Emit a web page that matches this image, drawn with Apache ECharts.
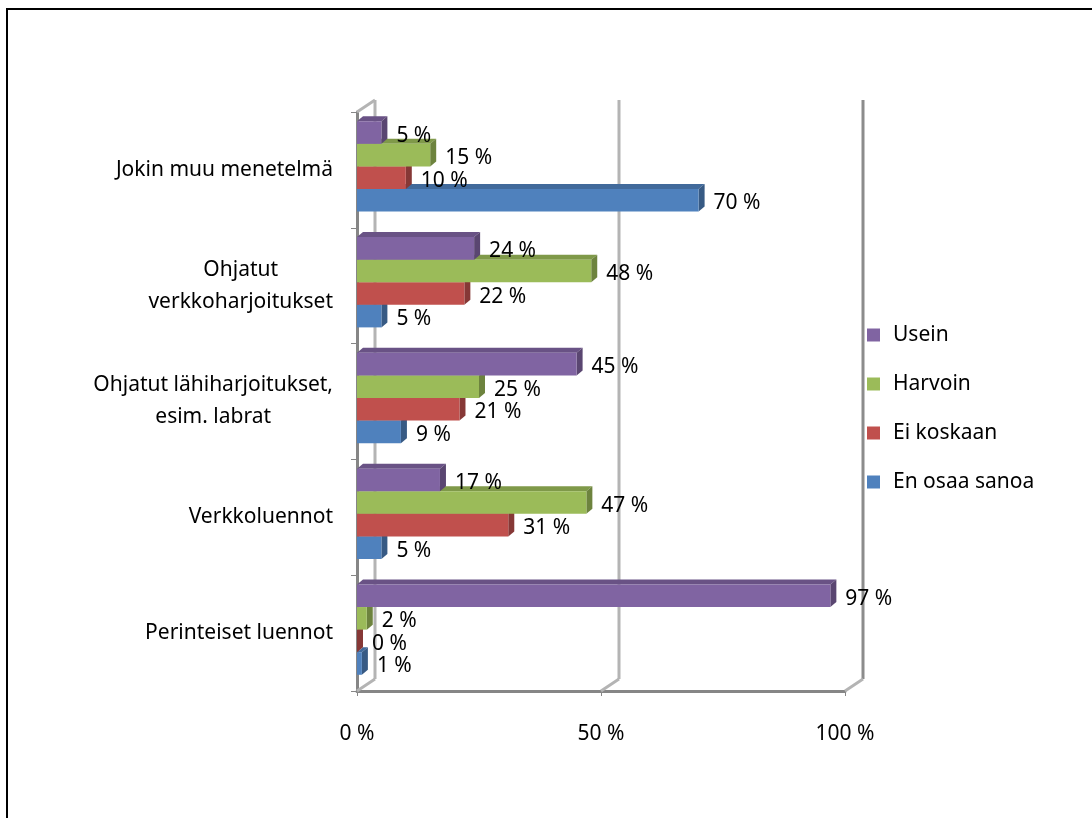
<!DOCTYPE html>
<html>
<head>
    <meta charset="utf-8">
    <title>ECharts</title>
    <script src="https://cdn.jsdelivr.net/npm/echarts@6/dist/echarts.min.js"></script>
    <style>
        body { margin: 0; background: #fff; }
        #main { width: 1092px; height: 818px; }
    </style>
</head>
<body>
    <div id="main"></div>
    <script type="text/javascript">
        // categories, bottom to top as drawn on the axis
        var categories = ['Perinteiset luennot', 'Verkkoluennot', 'Ohjatut lähiharjoitukset,\nesim. labrat', 'Ohjatut\nverkkoharjoitukset', 'Jokin muu menetelmä'];
        var usein = [97, 17, 45, 24, 5];
        var harvoin = [2, 47, 25, 48, 15];
        var eiKoskaan = [0, 31, 21, 22, 10];
        var enOsaaSanoa = [1, 5, 9, 5, 70];
        var xTicks = [0, 50, 100];

        var FONT = '"Noto Sans", sans-serif';
        var DX = 18, DY = -12;     // depth of back wall
        var BDX = 6, BDY = -5;     // depth of each bar

        // slot 0 = top bar of each group
        var seriesDefs = [
            { name: 'En osaa sanoa', data: enOsaaSanoa, color: '#4F81BD', slot: 3 },
            { name: 'Ei koskaan', data: eiKoskaan, color: '#C0504D', slot: 2 },
            { name: 'Harvoin', data: harvoin, color: '#9BBB59', slot: 1 },
            { name: 'Usein', data: usein, color: '#8064A2', slot: 0 }
        ];

        function darken(hex, f) {
            var n = parseInt(hex.slice(1), 16);
            var r = Math.round(((n >> 16) & 255) * f);
            var g = Math.round(((n >> 8) & 255) * f);
            var b = Math.round((n & 255) * f);
            return 'rgb(' + r + ',' + g + ',' + b + ')';
        }

        function barRenderer(def) {
            return function (params, api) {
                var v = api.value(0), c = api.value(1);
                var base = api.coord([0, c]);
                var end = api.coord([v, c]);
                var band = api.size([0, 1])[1];
                var h = band * 0.195;
                var top = base[1] - band * 0.42 + def.slot * h;
                var x0 = base[0], x1 = end[0];
                var side = darken(def.color, 0.7);
                var lid = darken(def.color, 0.82);
                return {
                    type: 'group',
                    children: [
                        { type: 'polygon', shape: { points: [[x0, top], [x0 + BDX, top + BDY], [x1 + BDX, top + BDY], [x1, top]] }, style: { fill: lid } },
                        { type: 'polygon', shape: { points: [[x1, top], [x1 + BDX, top + BDY], [x1 + BDX, top + h + BDY], [x1, top + h]] }, style: { fill: side } },
                        { type: 'rect', shape: { x: x0, y: top, width: x1 - x0, height: h }, style: { fill: def.color } },
                        { type: 'text', x: x1 + BDX + 9, y: top + h / 2 + 3, style: { text: v + ' %', fill: '#000', font: '21px ' + FONT, align: 'left', verticalAlign: 'middle' } }
                    ]
                };
            };
        }

        function wallRenderer(params, api) {
            var cs = params.coordSys;
            var bottom = cs.y + cs.height;
            var children = [];
            xTicks.forEach(function (t, i) {
                var x = api.coord([t, 0])[0];
                var col = i === xTicks.length - 1 ? '#8c8c8c' : '#b4b4b4';
                children.push({ type: 'line', shape: { x1: x + DX, y1: cs.y + DY, x2: x + DX, y2: bottom + DY }, style: { stroke: col, lineWidth: 3 } });
                children.push({ type: 'line', shape: { x1: x, y1: bottom, x2: x + DX, y2: bottom + DY }, style: { stroke: '#b4b4b4', lineWidth: 3 } });
            });
            children.push({ type: 'line', shape: { x1: cs.x, y1: cs.y, x2: cs.x + DX, y2: cs.y + DY }, style: { stroke: '#b4b4b4', lineWidth: 3 } });
            return { type: 'group', children: children };
        }

        var series = [{
            type: 'custom',
            name: 'wall',
            renderItem: wallRenderer,
            data: [[0, 0]],
            z: 1,
            silent: true
        }];
        seriesDefs.forEach(function (def) {
            series.push({
                type: 'custom',
                name: def.name,
                itemStyle: { color: def.color },
                renderItem: barRenderer(def),
                encode: { x: 0, y: 1 },
                data: def.data.map(function (v, i) { return [v, i]; }),
                z: 2
            });
        });

        var myChart = echarts.init(document.getElementById('main'));
        var option = {
            animation: false,
            backgroundColor: '#fff',
            textStyle: { fontFamily: FONT },
            grid: { left: 357, right: 247, top: 112, bottom: 127 },
            legend: {
                data: ['Usein', 'Harvoin', 'Ei koskaan', 'En osaa sanoa'],
                orient: 'vertical',
                left: 867,
                top: 323,
                padding: 0,
                icon: 'rect',
                itemWidth: 13,
                itemHeight: 13,
                itemGap: 25,
                textStyle: { fontSize: 21, color: '#000', lineHeight: 24, fontFamily: FONT, padding: [0, 0, 0, 8] }
            },
            xAxis: {
                type: 'value',
                min: 0,
                max: 100,
                interval: 50,
                axisLine: { show: true, lineStyle: { color: '#868686', width: 3 } },
                axisTick: { show: true, length: 5, lineStyle: { color: '#868686', width: 1 } },
                splitLine: { show: false },
                axisLabel: { formatter: '{value} %', fontSize: 21, color: '#000', margin: 33, fontFamily: FONT }
            },
            yAxis: {
                type: 'category',
                data: categories,
                axisLine: { show: true, lineStyle: { color: '#868686', width: 3 } },
                axisTick: { show: true, length: 6, lineStyle: { color: '#868686', width: 1 } },
                axisLabel: {
                    margin: 24,
                    align: 'right',
                    formatter: function (v) {
                        return v.split('\n').map(function (l) { return '{c|' + l + '}'; }).join('\n');
                    },
                    rich: { c: { align: 'center', fontSize: 21, color: '#000', lineHeight: 32, fontFamily: FONT } }
                }
            },
            graphic: [{
                type: 'rect',
                shape: { x: 7, y: 9, width: 2000, height: 2000 },
                style: { fill: null, stroke: '#000', lineWidth: 2 },
                silent: true
            }],
            series: series
        };
        myChart.setOption(option);
    </script>
</body>
</html>
